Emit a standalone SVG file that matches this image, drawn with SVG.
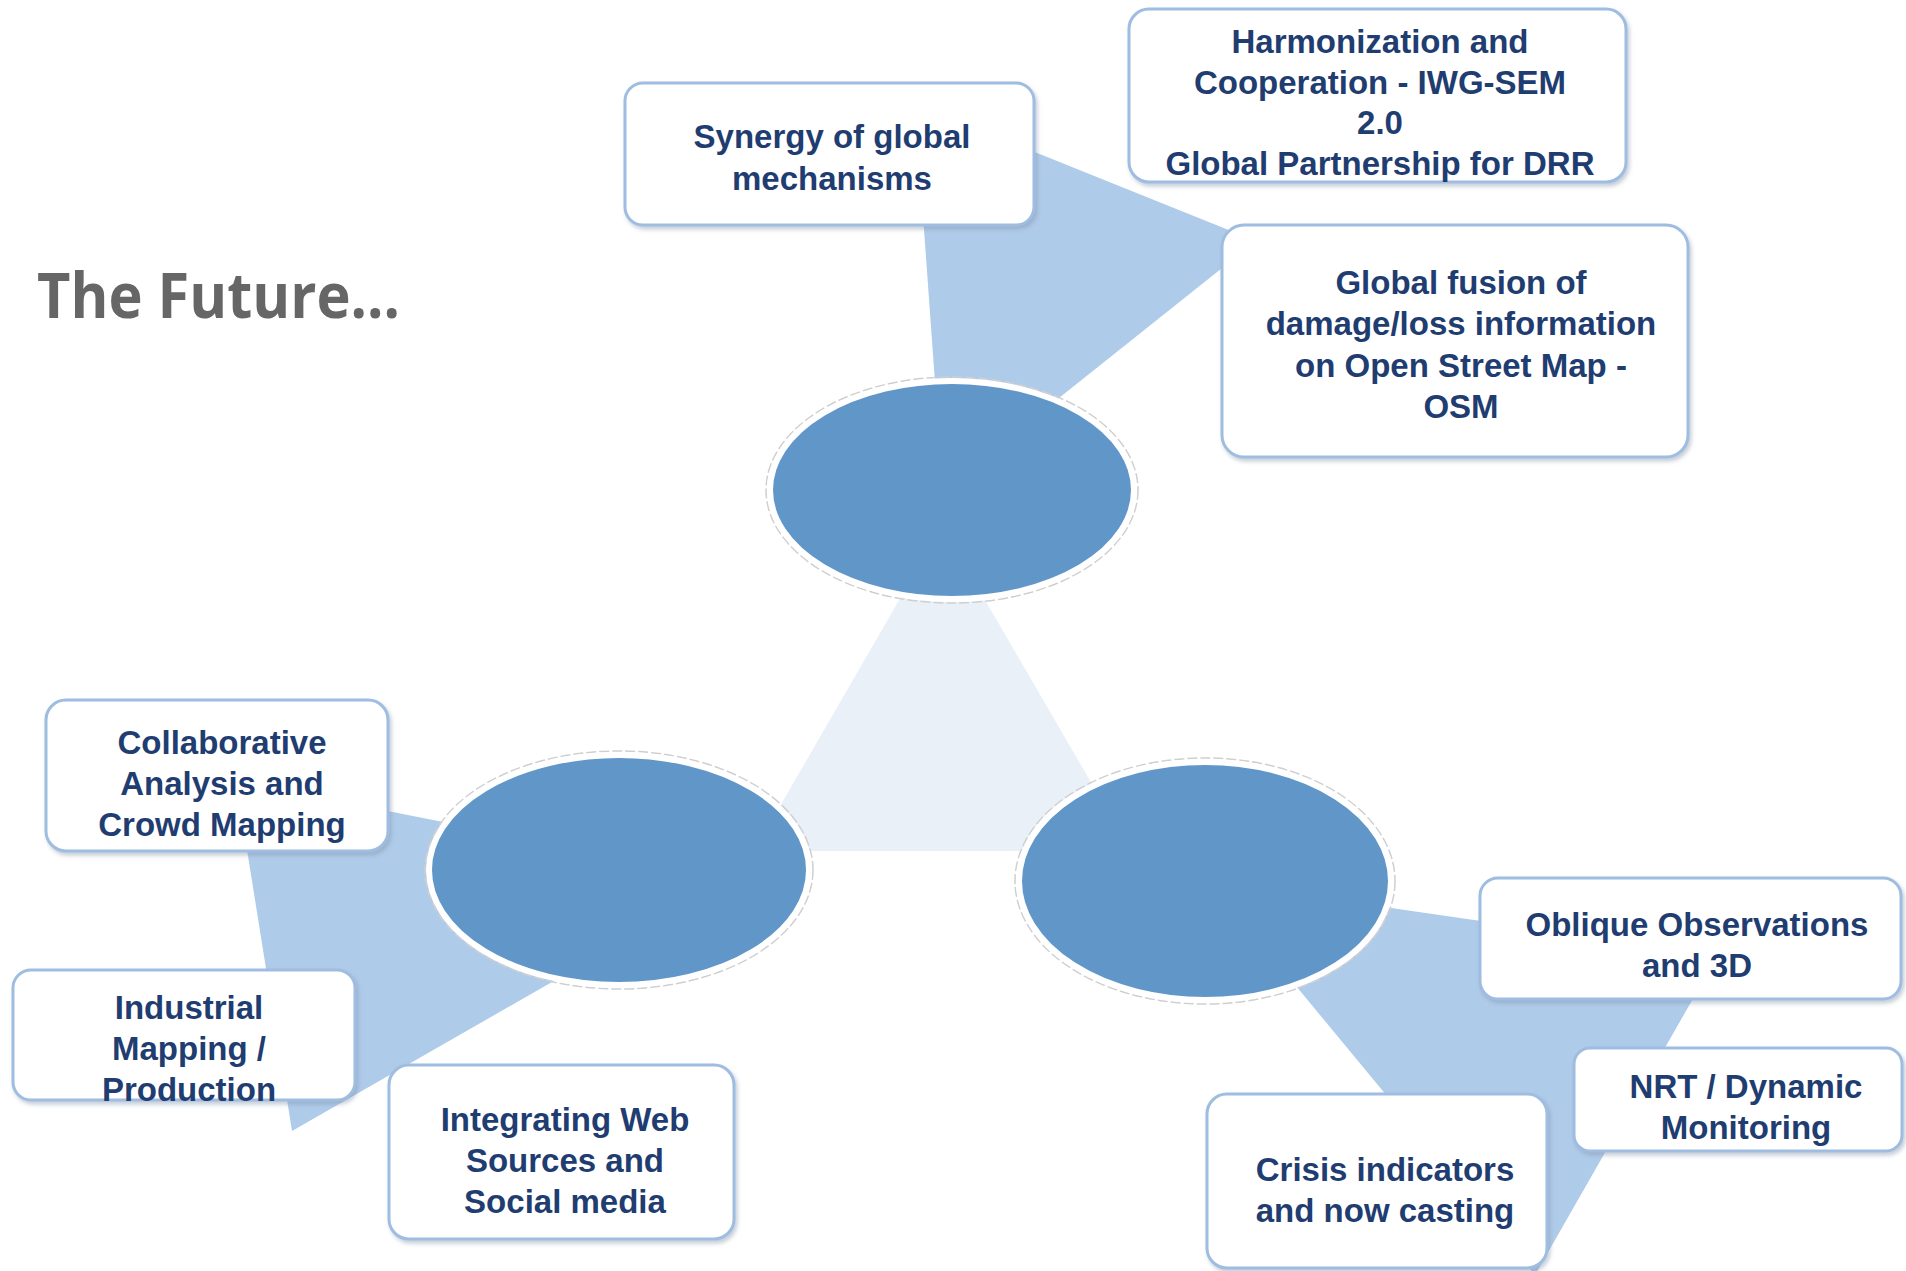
<svg xmlns="http://www.w3.org/2000/svg" width="1906" height="1271" viewBox="0 0 1906 1271">
  <defs>
    <filter id="sh" x="-5%" y="-5%" width="112%" height="115%">
      <feDropShadow dx="2" dy="3" stdDeviation="2" flood-color="#7f8fa6" flood-opacity="0.45"/>
    </filter>
    <style>
      .box { fill: #ffffff; stroke: #9fbde0; stroke-width: 3; filter: url(#sh); }
      .lbl { font-family: "Liberation Sans", Arial, sans-serif; font-weight: bold; font-size: 33px; fill: #1f3d70; text-anchor: middle; }
      .hub { fill: #6196c8; stroke: #ffffff; stroke-width: 6; }
      .hubring { fill: none; stroke: #cfcfcf; stroke-width: 1.5; stroke-dasharray: 10 3; }
      .wedge { fill: #afcbea; }
      .tri { fill: #eaf0f8; }
      .title { font-family: "Open Sans", "Liberation Sans", sans-serif; font-weight: bold; font-size: 62px; fill: #666666; }
    </style>
  </defs>
  <rect width="1906" height="1271" fill="#ffffff"/>

  <text class="title" x="37" y="318" textLength="363" lengthAdjust="spacingAndGlyphs">The Future...</text>

  <g id="connectors">
    <polygon class="tri" points="942,526 754,851 1131,851"/>
    <polygon class="wedge" points="915,104 1256,241 956,480 942,480"/>
    <polygon class="wedge" points="236,781 620,857 620,943 292,1131"/>
    <polygon class="wedge" points="1210,882 1718,955 1535,1275"/>
  </g>

  <g id="hub-top">
    <ellipse class="hubring" cx="952" cy="490" rx="186" ry="113"/>
    <ellipse class="hub" cx="952" cy="490" rx="182" ry="109"/>
  </g>
  <g id="hub-left">
    <ellipse class="hubring" cx="619" cy="870" rx="194" ry="119"/>
    <ellipse class="hub" cx="619" cy="870" rx="190" ry="115"/>
  </g>
  <g id="hub-right">
    <ellipse class="hubring" cx="1205" cy="881" rx="190" ry="123"/>
    <ellipse class="hub" cx="1205" cy="881" rx="186" ry="119"/>
  </g>

  <g id="synergy">
    <rect class="box" x="625" y="83" width="409" height="142" rx="18"/>
    <text class="lbl" x="832" y="148">Synergy of global</text>
    <text class="lbl" x="832" y="190">mechanisms</text>
  </g>
  <g id="harmonization">
    <rect class="box" x="1129" y="9" width="497" height="173" rx="20"/>
    <text class="lbl" x="1380" y="53">Harmonization and</text>
    <text class="lbl" x="1380" y="94">Cooperation - IWG-SEM</text>
    <text class="lbl" x="1380" y="134">2.0</text>
    <text class="lbl" x="1380" y="175">Global Partnership for DRR</text>
  </g>
  <g id="fusion">
    <rect class="box" x="1222" y="225" width="466" height="232" rx="22"/>
    <text class="lbl" x="1461" y="294">Global fusion of</text>
    <text class="lbl" x="1461" y="335">damage/loss information</text>
    <text class="lbl" x="1461" y="377">on Open Street Map -</text>
    <text class="lbl" x="1461" y="418">OSM</text>
  </g>
  <g id="collaborative">
    <rect class="box" x="46" y="700" width="342" height="151" rx="20"/>
    <text class="lbl" x="222" y="754">Collaborative</text>
    <text class="lbl" x="222" y="795">Analysis and</text>
    <text class="lbl" x="222" y="836">Crowd Mapping</text>
  </g>
  <g id="industrial">
    <rect class="box" x="13" y="970" width="342" height="130" rx="18"/>
    <text class="lbl" x="189" y="1019">Industrial</text>
    <text class="lbl" x="189" y="1060">Mapping /</text>
    <text class="lbl" x="189" y="1101">Production</text>
  </g>
  <g id="integrating">
    <rect class="box" x="389" y="1065" width="345" height="174" rx="20"/>
    <text class="lbl" x="565" y="1131">Integrating Web</text>
    <text class="lbl" x="565" y="1172">Sources and</text>
    <text class="lbl" x="565" y="1213">Social media</text>
  </g>
  <g id="oblique">
    <rect class="box" x="1480" y="878" width="421" height="121" rx="18"/>
    <text class="lbl" x="1697" y="936">Oblique Observations</text>
    <text class="lbl" x="1697" y="977">and 3D</text>
  </g>
  <g id="nrt">
    <rect class="box" x="1574" y="1048" width="328" height="103" rx="16"/>
    <text class="lbl" x="1746" y="1098">NRT / Dynamic</text>
    <text class="lbl" x="1746" y="1139">Monitoring</text>
  </g>
  <g id="crisis">
    <rect class="box" x="1207" y="1094" width="340" height="174" rx="20"/>
    <text class="lbl" x="1385" y="1181">Crisis indicators</text>
    <text class="lbl" x="1385" y="1222">and now casting</text>
  </g>
</svg>
